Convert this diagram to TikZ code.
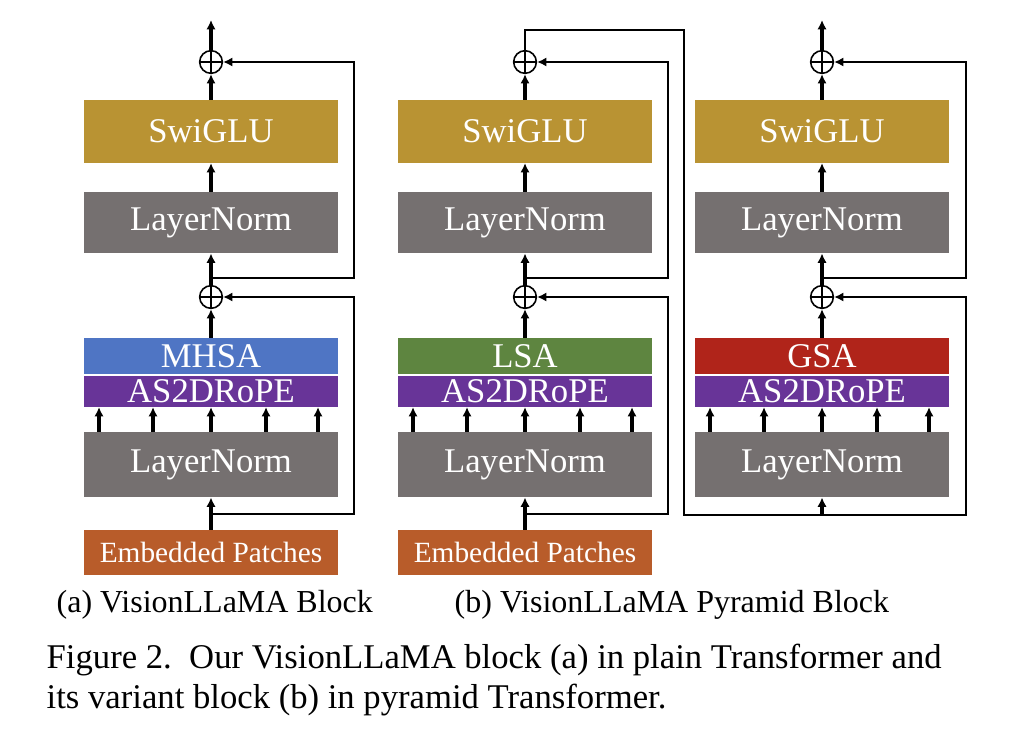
\documentclass[tikz,border=0pt]{standalone}
\usepackage{fontspec}
\setmainfont{Liberation Serif}
\usetikzlibrary{positioning,arrows.meta}

\definecolor{swicol}{RGB}{185,147,51}
\definecolor{lncol}{RGB}{117,112,112}
\definecolor{ropecol}{RGB}{104,52,152}
\definecolor{mhsacol}{RGB}{79,117,196}
\definecolor{lsacol}{RGB}{94,133,64}
\definecolor{gsacol}{RGB}{176,36,26}
\definecolor{embcol}{RGB}{184,92,42}

\begin{document}
\begin{tikzpicture}[x=0.75pt, y=-0.75pt,
    box/.style={
      fill=#1, minimum width=190.5pt, inner sep=0pt, text=white,
      font=\fontsize{26}{28}\selectfont
    },
    add/.style={
      draw, circle, line width=1.2pt, minimum size=17pt, inner sep=0pt,
      path picture={\draw[line width=1pt]
        (path picture bounding box.north) -- (path picture bounding box.south)
        (path picture bounding box.west) -- (path picture bounding box.east);}
    },
    flow/.style={line width=2.3pt, -{Latex[length=7pt,width=7pt]}},
    res/.style={line width=1.5pt},
    resarr/.style={line width=1.5pt, -{Latex[length=7pt,width=7pt]}},
    captxt/.style={font=\fontsize{24}{28}\selectfont, anchor=west}
  ]
  \path (0,0) rectangle (1024,750);

  % ===== (a) VisionLLaMA Block =====
  \node[box=swicol, minimum height=47pt] (swia) at (211,131.5) {SwiGLU};
  \node[box=lncol, minimum height=46pt] (ln1a) at (211,222.5) {LayerNorm};
  \node[add] (p1a) at (211,62) {};
  \node[add] (p2a) at (211,297) {};
  \node[box=mhsacol, minimum height=27pt] (attna) at (211,356) {MHSA};
  \node[box=ropecol, minimum height=23pt] (ropea) at (211,391.5) {AS2DRoPE};
  \node[box=lncol, minimum height=49pt] (ln2a) at (211,464.5) {LayerNorm};
  \node[box=embcol, minimum height=34pt, font=\fontsize{22}{24}\selectfont] (emba) at (211,552.5) {Embedded Patches};
  \coordinate (outa) at (211,20);
  \coordinate (j1a) at (211,514);
  \coordinate (j2a) at (211,278);
  \coordinate (r1a) at (354,297);
  \coordinate (r2a) at (354,62);

  \draw[flow] (emba) -- (ln2a);
  \foreach \dx in {-112,-58,0,55,107}
    \draw[flow] ([xshift=\dx*0.75pt]ln2a.north) -- ([xshift=\dx*0.75pt]ropea.south);
  \draw[flow] (attna) -- (p2a);
  \draw[flow] (p2a) -- (ln1a);
  \draw[flow] (ln1a) -- (swia);
  \draw[flow] (swia) -- (p1a);
  \draw[flow] (p1a) -- (outa);
  \draw[resarr] (j1a) -| (r1a) -- (p2a);
  \draw[resarr] (j2a) -| (r2a) -- (p1a);

  % ===== (b) Pyramid block, local attention =====
  \node[box=swicol, minimum height=47pt] (swib) at (525,131.5) {SwiGLU};
  \node[box=lncol, minimum height=46pt] (ln1b) at (525,222.5) {LayerNorm};
  \node[add] (p1b) at (525,62) {};
  \node[add] (p2b) at (525,297) {};
  \node[box=lsacol, minimum height=27pt] (attnb) at (525,356) {LSA};
  \node[box=ropecol, minimum height=23pt] (ropeb) at (525,391.5) {AS2DRoPE};
  \node[box=lncol, minimum height=49pt] (ln2b) at (525,464.5) {LayerNorm};
  \node[box=embcol, minimum height=34pt, font=\fontsize{22}{24}\selectfont] (embb) at (525,552.5) {Embedded Patches};
  \coordinate (j1b) at (525,514);
  \coordinate (j2b) at (525,278);
  \coordinate (r1b) at (668,297);
  \coordinate (r2b) at (668,62);

  \draw[flow] (embb) -- (ln2b);
  \foreach \dx in {-112,-58,0,55,107}
    \draw[flow] ([xshift=\dx*0.75pt]ln2b.north) -- ([xshift=\dx*0.75pt]ropeb.south);
  \draw[flow] (attnb) -- (p2b);
  \draw[flow] (p2b) -- (ln1b);
  \draw[flow] (ln1b) -- (swib);
  \draw[flow] (swib) -- (p1b);
  \draw[resarr] (j1b) -| (r1b) -- (p2b);
  \draw[resarr] (j2b) -| (r2b) -- (p1b);

  % ===== (b) Pyramid block, global attention =====
  \node[box=swicol, minimum height=47pt] (swic) at (822,131.5) {SwiGLU};
  \node[box=lncol, minimum height=46pt] (ln1c) at (822,222.5) {LayerNorm};
  \node[add] (p1c) at (822,62) {};
  \node[add] (p2c) at (822,297) {};
  \node[box=gsacol, minimum height=27pt] (attnc) at (822,356) {GSA};
  \node[box=ropecol, minimum height=23pt] (ropec) at (822,391.5) {AS2DRoPE};
  \node[box=lncol, minimum height=49pt] (ln2c) at (822,464.5) {LayerNorm};
  \coordinate (outc) at (822,20);
  \coordinate (j1c) at (822,515);
  \coordinate (j2c) at (822,278);
  \coordinate (r1c) at (966,297);
  \coordinate (r2c) at (966,62);
  \coordinate (link1) at (525,30);
  \coordinate (link2) at (684,30);
  \coordinate (link3) at (684,515);

  \draw[res] (p1b) -- (link1) -- (link2) -- (link3) -- (j1c);
  \draw[flow] (j1c) -- (ln2c);
  \foreach \dx in {-112,-58,0,55,107}
    \draw[flow] ([xshift=\dx*0.75pt]ln2c.north) -- ([xshift=\dx*0.75pt]ropec.south);
  \draw[flow] (attnc) -- (p2c);
  \draw[flow] (p2c) -- (ln1c);
  \draw[flow] (ln1c) -- (swic);
  \draw[flow] (swic) -- (p1c);
  \draw[flow] (p1c) -- (outc);
  \draw[resarr] (j1c) -| (r1c) -- (p2c);
  \draw[resarr] (j2c) -| (r2c) -- (p1c);

  % Captions
  \node[captxt] (capa) at (52,605) {(a) VisionLLaMA Block};
  \node[captxt] (capb) at (450,605) {(b) VisionLLaMA Pyramid Block};
  \node[captxt, font=\fontsize{26}{30}\selectfont] (fig1) at (42,660) {Figure 2.\ \ Our VisionLLaMA block (a) in plain Transformer and};
  \node[captxt, font=\fontsize{26}{30}\selectfont] (fig2) at (42,700) {its variant block (b) in pyramid Transformer.};
\end{tikzpicture}
\end{document}
